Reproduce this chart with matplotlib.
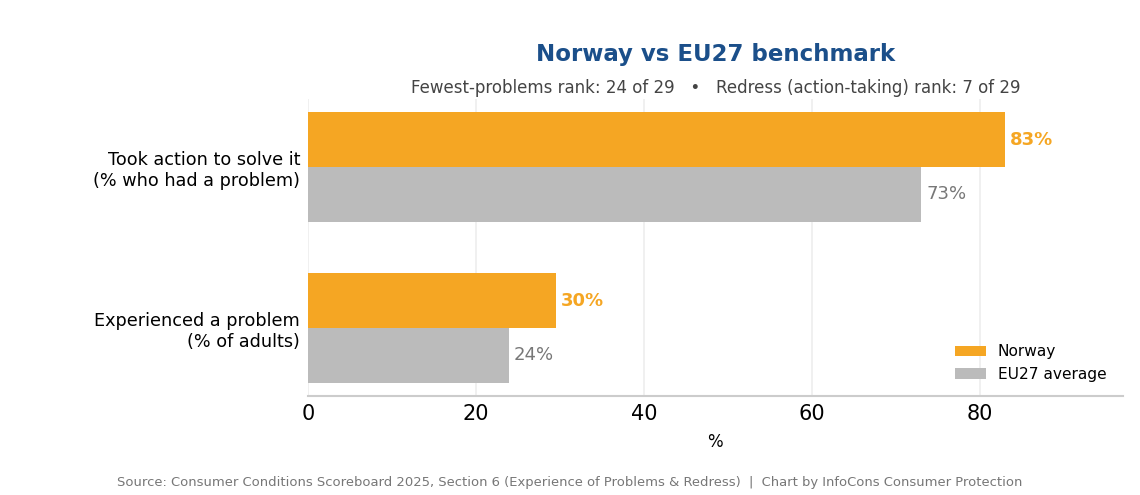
import numpy as np
import matplotlib.pyplot as plt

# Data
categories = ["Experienced a problem\n(% of adults)", "Took action to solve it\n(% who had a problem)"]
norway = [29.5, 83.0]
eu27 = [23.9, 73.0]
norway_labels = ["30%", "83%"]
eu27_labels = ["24%", "73%"]

orange = "#F5A623"
grey = "#BBBBBB"

fig = plt.figure(figsize=(11.4, 4.95), dpi=100)
ax = fig.add_axes([0.270, 0.2, 0.715, 0.600])

y = np.arange(len(categories))
h = 0.34
ax.barh(y + h / 2, norway, height=h, color=orange, label="Norway", zorder=3)
ax.barh(y - h / 2, eu27, height=h, color=grey, label="EU27 average", zorder=3)

for yi, v, lab in zip(y, norway, norway_labels):
    ax.text(v + 0.6, yi + h / 2, lab, va="center", ha="left",
            fontsize=13, fontweight="bold", color=orange)
for yi, v, lab in zip(y, eu27, eu27_labels):
    ax.text(v + 0.6, yi - h / 2, lab, va="center", ha="left",
            fontsize=13, color="#777777")

ax.set_xlim(0, 97)
ax.set_yticks(y)
ax.set_yticklabels(categories, fontsize=12.7)
ax.set_xticks([0, 20, 40, 60, 80])
ax.tick_params(axis="x", labelsize=15, length=0, pad=6)
ax.tick_params(axis="y", length=0, pad=5.5)
ax.set_xlabel("%", fontsize=12, labelpad=6)

ax.grid(axis="x", color="#EEEEEE", linewidth=1.2, zorder=0)
for s in ["top", "right", "left"]:
    ax.spines[s].set_visible(False)
ax.spines["bottom"].set_color("#CCCCCC")
ax.spines["bottom"].set_linewidth(1.5)

ax.legend(loc="lower right", frameon=False, fontsize=11.1, handlelength=2.0,
          labelspacing=0.5, bbox_to_anchor=(0.997, 0.0))

fig.text(0.628, 0.890, "Norway vs EU27 benchmark", ha="center", va="center",
         fontsize=16.5, fontweight="bold", color="#1B4F8A")
fig.text(0.628, 0.822, "Fewest-problems rank: 24 of 29   \u2022   Redress (action-taking) rank: 7 of 29",
         ha="center", va="center", fontsize=12, color="#444444")
fig.text(0.5, 0.026, "Source: Consumer Conditions Scoreboard 2025, Section 6 (Experience of Problems & Redress)  |  Chart by InfoCons Consumer Protection",
         ha="center", va="center", fontsize=9.45, color="#777777")

fig.savefig("out.png", dpi=100)
